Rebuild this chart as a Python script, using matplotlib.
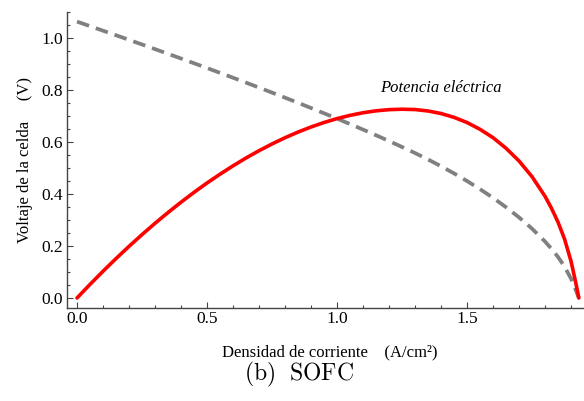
import matplotlib.pyplot as plt
from matplotlib.ticker import MultipleLocator

plt.rcParams['font.family'] = ['Liberation Serif', 'DejaVu Serif']
plt.rcParams['mathtext.fontset'] = 'cm'

# current density (A/cm2) and the two curves read at those points
densidad = [0.0, 0.05, 0.1, 0.15, 0.2, 0.25, 0.3, 0.35, 0.4, 0.45, 0.5,
            0.55, 0.6, 0.65, 0.7, 0.75, 0.8, 0.85, 0.9, 0.95, 1.0, 1.05,
            1.1, 1.15, 1.2, 1.25, 1.3, 1.35, 1.4, 1.45, 1.5, 1.55, 1.6,
            1.65, 1.7, 1.75, 1.8, 1.825, 1.85, 1.875, 1.9, 1.91, 1.92, 1.93]
voltaje = [1.0630, 1.0456, 1.0281, 1.0106, 0.9929, 0.9751, 0.9572, 0.9392,
           0.9211, 0.9029, 0.8845, 0.8659, 0.8472, 0.8284, 0.8093, 0.7900,
           0.7705, 0.7508, 0.7308, 0.7105, 0.6900, 0.6690, 0.6477, 0.6260,
           0.6037, 0.5809, 0.5575, 0.5328, 0.5068, 0.4792, 0.4499, 0.4186,
           0.3854, 0.3491, 0.3100, 0.2666, 0.2172, 0.1889, 0.1576, 0.1210,
           0.0743, 0.0502, 0.0260, 0.0]
potencia = [0.0, 0.0523, 0.1028, 0.1516, 0.1986, 0.2438, 0.2872, 0.3287,
            0.3684, 0.4063, 0.4423, 0.4762, 0.5083, 0.5385, 0.5665, 0.5925,
            0.6164, 0.6382, 0.6577, 0.6750, 0.6900, 0.7025, 0.7125, 0.7199,
            0.7244, 0.7261, 0.7248, 0.7193, 0.7095, 0.6948, 0.6749, 0.6488,
            0.6166, 0.5760, 0.5270, 0.4666, 0.3910, 0.3447, 0.2916, 0.2269,
            0.1412, 0.0959, 0.0499, 0.0]

xticks = [0.0, 0.5, 1.0, 1.5]
yticks = [0.0, 0.2, 0.4, 0.6, 0.8, 1.0]

fig = plt.figure(figsize=(5.84, 4.01), dpi=100)
ax = fig.add_axes([67 / 584, 93 / 401, 516 / 584, 296 / 401])

ax.plot(densidad, voltaje, color='#808080', lw=2.7, dashes=(3.4, 1.9),
        dash_capstyle='butt')
ax.plot(densidad, potencia, color='#ff0000', lw=2.6, solid_capstyle='round',
        solid_joinstyle='round')

ax.text(1.40, 0.808, 'Potencia eléctrica', style='italic', fontsize=12,
        ha='center', va='center')

ax.set_xlim(-0.0385, 1.946)
ax.set_ylim(-0.0385, 1.10)
ax.set_xticks(xticks)
ax.set_yticks(yticks)
ax.set_xticklabels([f'{v:.1f}' for v in xticks])
ax.set_yticklabels([f'{v:.1f}' for v in yticks])
ax.xaxis.set_minor_locator(MultipleLocator(0.1))
ax.yaxis.set_minor_locator(MultipleLocator(0.05))

for s in ['top', 'right']:
    ax.spines[s].set_visible(False)
for s in ['left', 'bottom']:
    ax.spines[s].set_color('#444444')
    ax.spines[s].set_linewidth(1.0)

ax.tick_params(which='both', direction='in', color='#444444', width=0.8)
ax.tick_params(which='major', length=4.3, labelsize=12.5)
ax.tick_params(axis='x', which='major', pad=2.5)
ax.tick_params(axis='y', which='major', pad=3)
ax.tick_params(which='minor', length=2.2)

fig.text(25 / 584, 1 - 160 / 401, 'Voltaje de la celda     (V)', rotation=90,
         fontsize=12, ha='center', va='center')
fig.text(330 / 584, 1 - 356.7 / 401, 'Densidad de corriente    (A/cm²)',
         fontsize=12, ha='center', va='baseline')
fig.text(298.5 / 584, 1 - 380 / 401, r'$\mathrm{(b)\ \ SOFC}$',
         fontsize=17, ha='center', va='baseline')

fig.savefig('out.png', dpi=100)
